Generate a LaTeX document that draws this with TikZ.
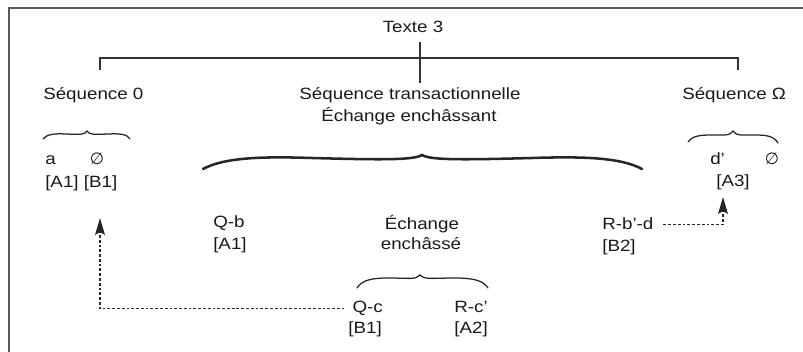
\documentclass[tikz,border=0pt]{standalone}
\usepackage{fontspec}
\setmainfont[FakeStretch=1.15]{Liberation Sans}
\newfontfamily\videfont{DejaVu Sans}
\usetikzlibrary{arrows.meta}

\begin{document}
\begin{tikzpicture}[x=0.025cm,y=-0.025cm,
    every node/.style={inner sep=0pt,font=\fontsize{11.6}{15.6}\selectfont,text=black!90},
    trait/.style={line width=0.8pt,black!80},
    cadre/.style={line width=1pt,black!65},
    accolade/.style={line width=0.9pt,black!85,line cap=round},
    pointille/.style={line width=0.8pt,black!85,dash pattern=on 2pt off 1.4pt,-{Stealth[length=12pt,width=7pt,inset=2pt]}}]
    \useasboundingbox (0,0) rectangle (803,352);

    % Cadre
    \draw[cadre] (9,352) -- (9,8) -- (803,8);

    % Texte et accolade du haut
    \node[anchor=base] (texte) at (413,33) {Texte 3};
    \draw[trait] (100,70) -- (100,58) -- (738,58) -- (738,70);
    \draw[trait] (420,42) -- (420,83);

    % Séquences
    \node[anchor=base west] (seqzero) at (43,100) {Séquence 0};
    \node[anchor=base] (seqtrans) at (410,100) {Séquence transactionnelle};
    \node[anchor=base] (enchassant) at (409,122) {Échange enchâssant};
    \node[anchor=base west] (seqomega) at (682,100) {Séquence Ω};

    % Séquence 0
    \draw[accolade] (43,139) .. controls (47,134) and (55,133.5) .. (66,134) .. controls (79,134.5) and (85,135) .. (87,131) .. controls (89,135) and (95,134.5) .. (108,134) .. controls (120,133.5) and (127,134) .. (130,139);
    \node[anchor=base west] (la) at (45,165) {a};
    \node[anchor=base] (videl) at (97,165) {\videfont ∅};
    \node[anchor=base west] (ab) at (45,188) {[A1] [B1]};

    % Séquence transactionnelle
    \draw[accolade,line width=1.8pt] (203,169) .. controls (225,157) and (265,156.5) .. (312,158) .. controls (385,160) and (414,160) .. (422,155) .. controls (430,160) and (459,160) .. (532,158) .. controls (580,156.5) and (620,157) .. (642,169);
    \node[anchor=base west] (qb) at (213,228) {Q-b};
    \node[anchor=base west] (qbA) at (213,250) {[A1]};
    \node[anchor=base] (echange) at (422,230) {Échange};
    \node[anchor=base] (enchasse) at (421,250) {enchâssé};
    \node[anchor=base west] (rbd) at (602,230) {R-b’-d};
    \node[anchor=base west] (rbdB) at (602,252) {[B2]};

    % Échange enchâssé
    \draw[accolade] (357,288) .. controls (362,280) and (372,278) .. (388,278) .. controls (408,278) and (416,280) .. (420,275) .. controls (424,280) and (434,278) .. (454,278) .. controls (472,278) and (483,280) .. (488,288);
    \node[anchor=base east] (qc) at (383,313) {Q-c};
    \node[anchor=base east] (qcB) at (382,334) {[B1]};
    \node[anchor=base east] (rc) at (488,313) {R-c’};
    \node[anchor=base east] (rcA) at (488,334) {[A2]};

    % Séquence Omega
    \draw[accolade] (688,142) .. controls (692,136) and (700,135) .. (711,135) .. controls (724,135) and (730,136) .. (733,131) .. controls (736,136) and (742,135) .. (755,135) .. controls (766,135) and (774,136) .. (778,143);
    \node[anchor=base west] (dprime) at (710,165) {d’};
    \node[anchor=base] (vider) at (772,165) {\videfont ∅};
    \node[anchor=base] (athree) at (733,187) {[A3]};

    % Renvois
    \coordinate (tipl) at (100,218);
    \coordinate (tipr) at (723,197);
    \draw[pointille,shorten <=5.5pt] (qc.west) -| (tipl);
    \draw[pointille,shorten <=7pt] (rbd.east) -| (tipr);
\end{tikzpicture}
\end{document}
